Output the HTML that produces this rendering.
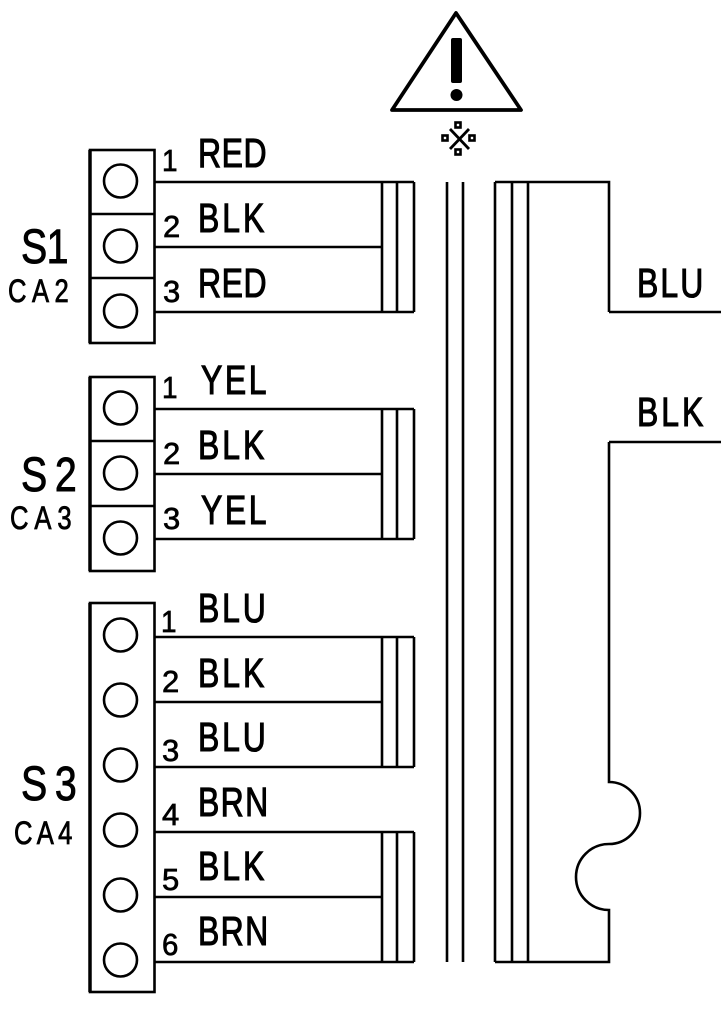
<!DOCTYPE html>
<html><head><meta charset="utf-8"><style>html,body{margin:0;padding:0;background:#fff}svg{display:block}
text{font-family:"Liberation Sans",sans-serif;fill:#000;stroke:#000;stroke-width:1.1}
.w{font-size:41px}.n{font-size:31px;stroke-width:.7}.s{font-size:48px;stroke-width:.9}.c{font-size:32px;stroke-width:.8}</style></head><body>
<svg width="721" height="1024" viewBox="0 0 721 1024" xmlns="http://www.w3.org/2000/svg">
<rect width="721" height="1024" fill="#fff"/>
<g style="filter:blur(.35px)">
<g fill="none" stroke="#000" stroke-width="2.6">
<path d="M392 110L456 13L521 110Z" stroke-width="3.8" stroke-linejoin="round"/>
<path d="M447 182V962M463 182V962"/>
<path d="M609 312H721M609 442H721"/>
<path d="M495 182H609V312M495 962H609V910A33 33 0 0 1 609 844A31 31 0 0 0 609 782V442M495 182V962M512 182V962M528 182V962"/>
<!-- S1 -->
<rect x="90" y="150" width="64.500" height="193"/><path d="M90 150V343" stroke-width="3.500"/><path d="M90 214H154M90 278H154"/>
<circle cx="120.500" cy="181" r="16.500"/><circle cx="120.500" cy="246" r="16.500"/><circle cx="120.500" cy="311" r="16.500"/>
<path d="M155 182H414M155 247H382M155 312H414M382 182V312M397 182V312M414 182V312"/>
<!-- S2 -->
<rect x="90" y="377" width="64.500" height="194"/><path d="M90 377V571" stroke-width="3.500"/><path d="M90 441H154M90 506H154"/>
<circle cx="120.500" cy="408" r="16.500"/><circle cx="120.500" cy="473" r="16.500"/><circle cx="120.500" cy="538" r="16.500"/>
<path d="M155 409H414M155 474H382M155 539H414M382 409V539M397 409V539M414 409V539"/>
<!-- S3 -->
<rect x="90" y="603" width="64.500" height="389"/><path d="M90 603V992" stroke-width="3.500"/>
<circle cx="120.500" cy="635" r="16.500"/><circle cx="120.500" cy="700" r="16.500"/><circle cx="120.500" cy="765" r="16.500"/><circle cx="120.500" cy="830" r="16.500"/><circle cx="120.500" cy="895" r="16.500"/><circle cx="120.500" cy="960" r="16.500"/>
<path d="M155 637H414M155 702H382M155 767H414M382 637V767M397 637V767M414 637V767"/>
<path d="M155 832H414M155 897H382M155 962H414M382 832V962M397 832V962M414 832V962"/>
<!-- symbol -->
<path d="M450 129L469 149M469 129L450 149" stroke-width="2.800"/>
<rect x="455.500" y="122.500" width="5" height="5"/><rect x="455.500" y="149.500" width="5" height="5"/><rect x="442.500" y="135.500" width="5" height="5"/><rect x="469.500" y="135.500" width="5" height="5"/>
</g>
<rect x="451" y="38" width="11" height="45" rx="2" fill="#000"/>
<circle cx="456.500" cy="95" r="6" fill="#000"/>

<g>
<text class="w" transform="translate(198 167) scale(.78 1)" textLength="88" lengthAdjust="spacing">RED</text>
<text class="w" transform="translate(198 232) scale(.78 1)" textLength="85" lengthAdjust="spacing">BLK</text>
<text class="w" transform="translate(198 297) scale(.78 1)" textLength="88" lengthAdjust="spacing">RED</text>
<text class="w" transform="translate(201 394) scale(.78 1)" textLength="84" lengthAdjust="spacing">YEL</text>
<text class="w" transform="translate(198 459) scale(.78 1)" textLength="85" lengthAdjust="spacing">BLK</text>
<text class="w" transform="translate(201 524) scale(.78 1)" textLength="84" lengthAdjust="spacing">YEL</text>
<text class="w" transform="translate(198 622) scale(.78 1)" textLength="87" lengthAdjust="spacing">BLU</text>
<text class="w" transform="translate(198 687) scale(.78 1)" textLength="85" lengthAdjust="spacing">BLK</text>
<text class="w" transform="translate(198 751) scale(.78 1)" textLength="87" lengthAdjust="spacing">BLU</text>
<text class="w" transform="translate(198 816) scale(.78 1)" textLength="90" lengthAdjust="spacing">BRN</text>
<text class="w" transform="translate(198 880) scale(.78 1)" textLength="85" lengthAdjust="spacing">BLK</text>
<text class="w" transform="translate(198 945) scale(.78 1)" textLength="90" lengthAdjust="spacing">BRN</text>
<text class="w" transform="translate(637 297) scale(.78 1)" textLength="85" lengthAdjust="spacing">BLU</text>
<text class="w" transform="translate(637 426) scale(.78 1)" textLength="85" lengthAdjust="spacing">BLK</text>

<text class="n" transform="translate(162 171) scale(.9 1)">1</text>
<text class="n" transform="translate(163 237)">2</text>
<text class="n" transform="translate(163 302)">3</text>
<text class="n" transform="translate(162 398) scale(.9 1)">1</text>
<text class="n" transform="translate(163 464)">2</text>
<text class="n" transform="translate(163 529)">3</text>
<text class="n" transform="translate(161 632) scale(.9 1)">1</text>
<text class="n" transform="translate(162 692)">2</text>
<text class="n" transform="translate(162 761)">3</text>
<text class="n" transform="translate(162 825)">4</text>
<text class="n" transform="translate(162 890)">5</text>
<text class="n" transform="translate(162 955) scale(.95 1)">6</text>

<text class="s" transform="translate(21 263) scale(.82 1)" textLength="58" lengthAdjust="spacing">S1</text>
<text class="c" transform="translate(8 302) scale(.8 1)" textLength="76" lengthAdjust="spacing">CA2</text>
<text class="s" transform="translate(21 491) scale(.82 1)" textLength="68" lengthAdjust="spacing">S2</text>
<text class="c" transform="translate(10 529) scale(.8 1)" textLength="77" lengthAdjust="spacing">CA3</text>
<text class="s" transform="translate(21 800) scale(.82 1)" textLength="68" lengthAdjust="spacing">S3</text>
<text class="c" transform="translate(14 844) scale(.8 1)" textLength="73" lengthAdjust="spacing">CA4</text>
</g>
</g>
</svg>
</body></html>
